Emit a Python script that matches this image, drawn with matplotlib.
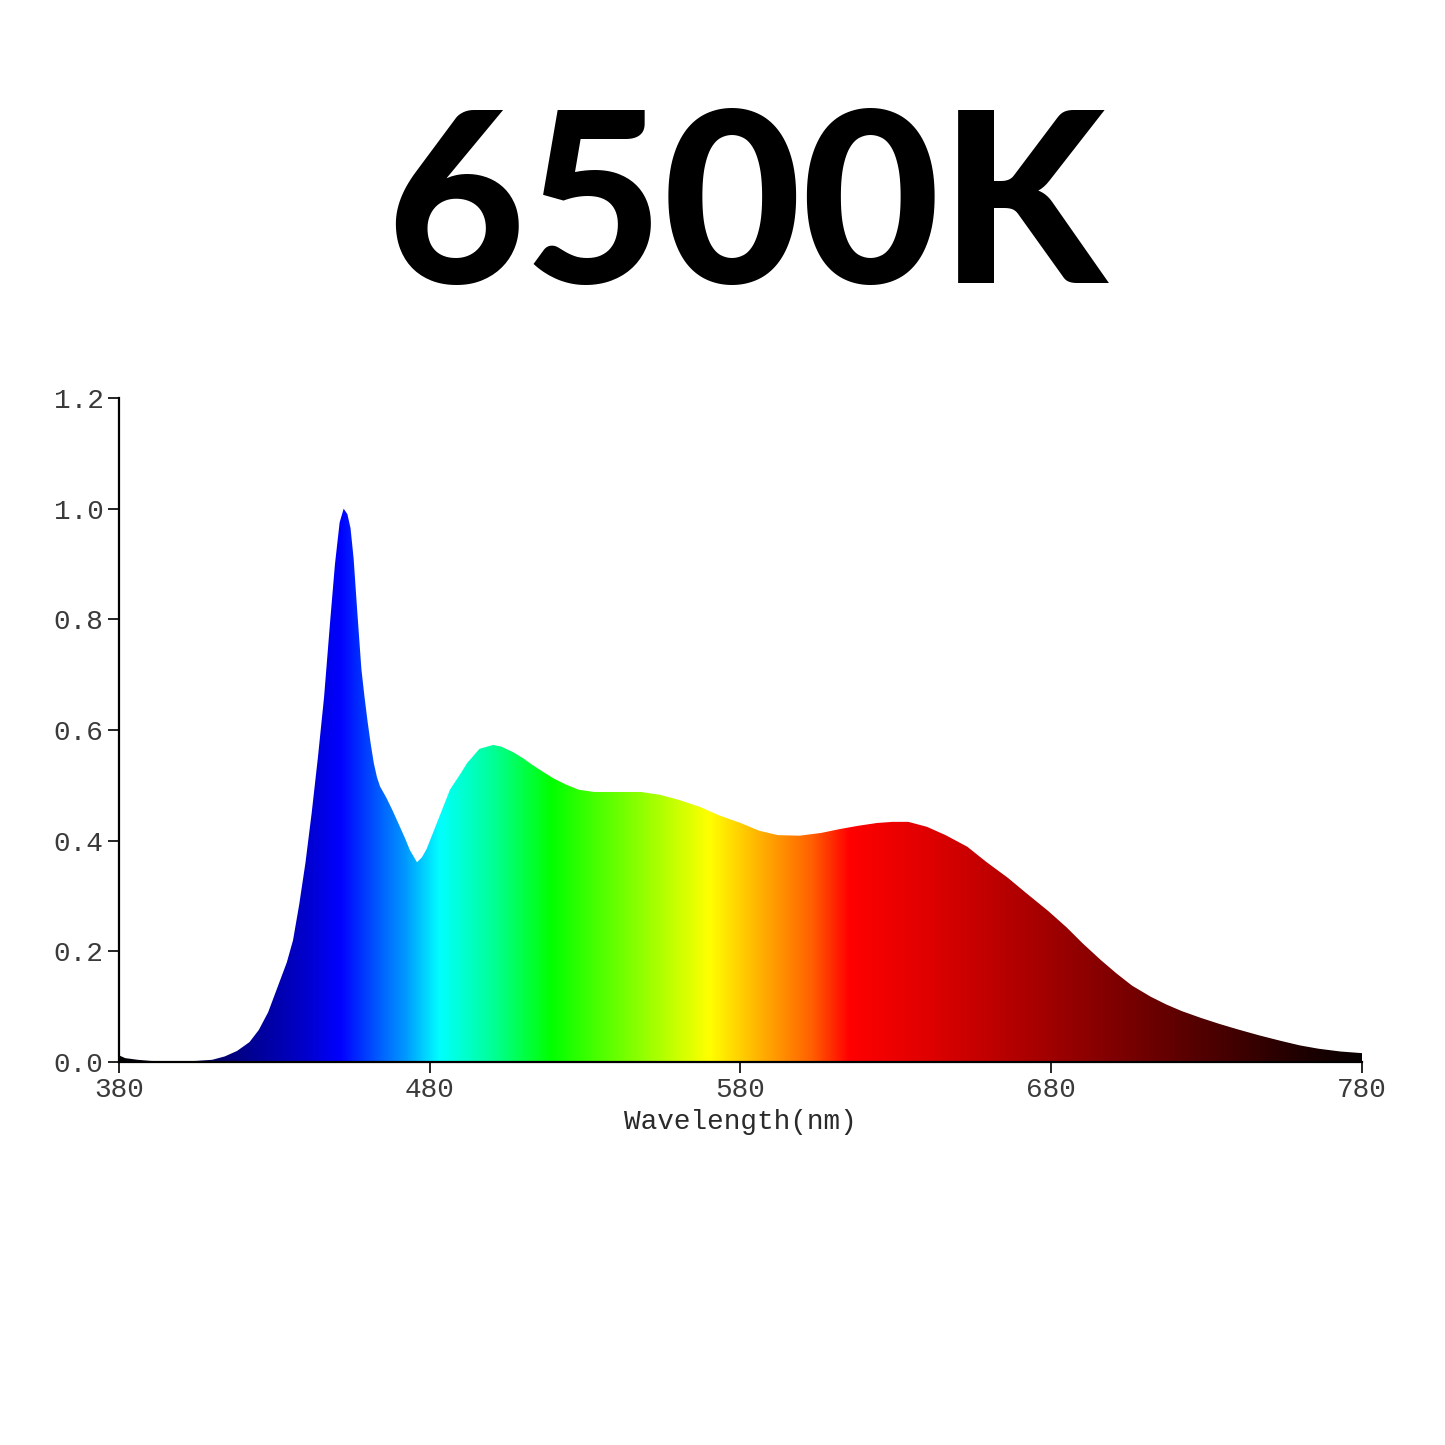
import matplotlib

matplotlib.use("Agg")
import matplotlib.pyplot as plt
import numpy as np
from matplotlib.colors import LinearSegmentedColormap

# spectrum (wavelength nm, relative intensity)
wavelength = [380, 382, 386, 390, 395, 400, 405, 410, 414, 418, 422, 425, 428, 431,
              434, 436, 438, 440, 442, 444, 446, 448, 449.5, 451, 452.3, 453.5, 454.5,
              455.5, 456.6, 458, 459, 460, 461, 462, 463, 464, 466, 468, 470.4, 472,
              473.6, 475.9, 477.5, 479, 482.3, 486.5, 490, 492, 496, 500.4, 503, 506.8,
              510, 513, 516, 520, 524, 528, 533, 540, 548, 554, 560, 567, 573, 580, 586,
              592, 599, 606, 612, 618, 624, 629, 634, 640, 646, 653, 659, 666, 672, 679,
              685, 690, 696, 701, 706, 712, 717, 722, 728, 734, 740, 747, 754, 760, 766,
              773, 780]
intensity = [0.012, 0.007, 0.004, 0.002, 0.001, 0.001, 0.002, 0.004, 0.010, 0.020, 0.036,
             0.058, 0.090, 0.135, 0.180, 0.220, 0.285, 0.360, 0.450, 0.550, 0.660, 0.800,
             0.900, 0.975, 1.000, 0.990, 0.965, 0.910, 0.820, 0.710, 0.660, 0.615, 0.575,
             0.540, 0.515, 0.498, 0.478, 0.455, 0.425, 0.405, 0.383, 0.361, 0.370, 0.385,
             0.432, 0.492, 0.522, 0.540, 0.566, 0.573, 0.570, 0.560, 0.549, 0.537, 0.526,
             0.512, 0.501, 0.492, 0.488, 0.488, 0.488, 0.483, 0.474, 0.461, 0.446, 0.432,
             0.418, 0.410, 0.409, 0.414, 0.421, 0.427, 0.432, 0.434, 0.434, 0.425, 0.410,
             0.389, 0.362, 0.333, 0.305, 0.273, 0.243, 0.215, 0.184, 0.160, 0.138, 0.118,
             0.104, 0.092, 0.080, 0.069, 0.059, 0.048, 0.038, 0.030, 0.024, 0.019, 0.016]

# colour of the fill along the wavelength axis
color_wl = [380, 400, 420, 440, 451, 464, 472, 483, 500, 519, 545, 570, 590, 603, 615,
            640, 660, 680, 700, 720, 740, 760, 780]
color_hex = ["#000000", "#000040", "#00008c", "#0000cc", "#0000ff", "#0060ff", "#0098ff",
             "#00ffff", "#00ff98", "#00ff00", "#80ff00", "#ffff00", "#ffa000", "#ff6000",
             "#ff0000", "#e00000", "#c00000", "#a00000", "#800000", "#600000", "#400000",
             "#200000", "#080000"]

xticks = [380, 480, 580, 680, 780]
yticks = [0.0, 0.2, 0.4, 0.6, 0.8, 1.0, 1.2]

fig = plt.figure(figsize=(14.45, 14.45), dpi=100)
fig.text(0.5165, 1 - 214 / 1445, "6500K", fontsize=172, family="Lato",
         fontweight="black", ha="center", va="center")

ax = fig.add_axes([119 / 1445, 1 - 1062 / 1445, 1243 / 1445, 664 / 1445])
ax.set_xlim(380, 780)
ax.set_ylim(0, 1.2)

pos = [(w - 380) / 400 for w in color_wl]
cmap = LinearSegmentedColormap.from_list("spec", list(zip(pos, color_hex)), N=1024)
grad = np.linspace(0, 1, 1600)[None, :]
poly = ax.fill_between(wavelength, intensity, 0, color="none", lw=0)
img = ax.imshow(grad, cmap=cmap, extent=[380, 780, 0, 1.2], aspect="auto",
                interpolation="bilinear", zorder=1)
img.set_clip_path(poly.get_paths()[0], transform=ax.transData)

for s in ["top", "right"]:
    ax.spines[s].set_visible(False)
for s in ["left", "bottom"]:
    ax.spines[s].set_linewidth(1.6)
    ax.spines[s].set_zorder(3)

mono = "Liberation Mono"
ax.set_xticks(xticks)
ax.set_xticklabels([str(t) for t in xticks], family=mono, fontsize=20, color="#3a3a3a")
ax.set_yticks(yticks)
ax.set_yticklabels([f"{t:.1f}" for t in yticks], family=mono, fontsize=20, color="#3a3a3a")
ax.tick_params(length=8, width=1.2, pad=3)
ax.set_xlabel("Wavelength(nm)", family=mono, fontsize=20, color="#2a2a2a", labelpad=4)

fig.savefig("out.png", dpi=100, facecolor="white")
